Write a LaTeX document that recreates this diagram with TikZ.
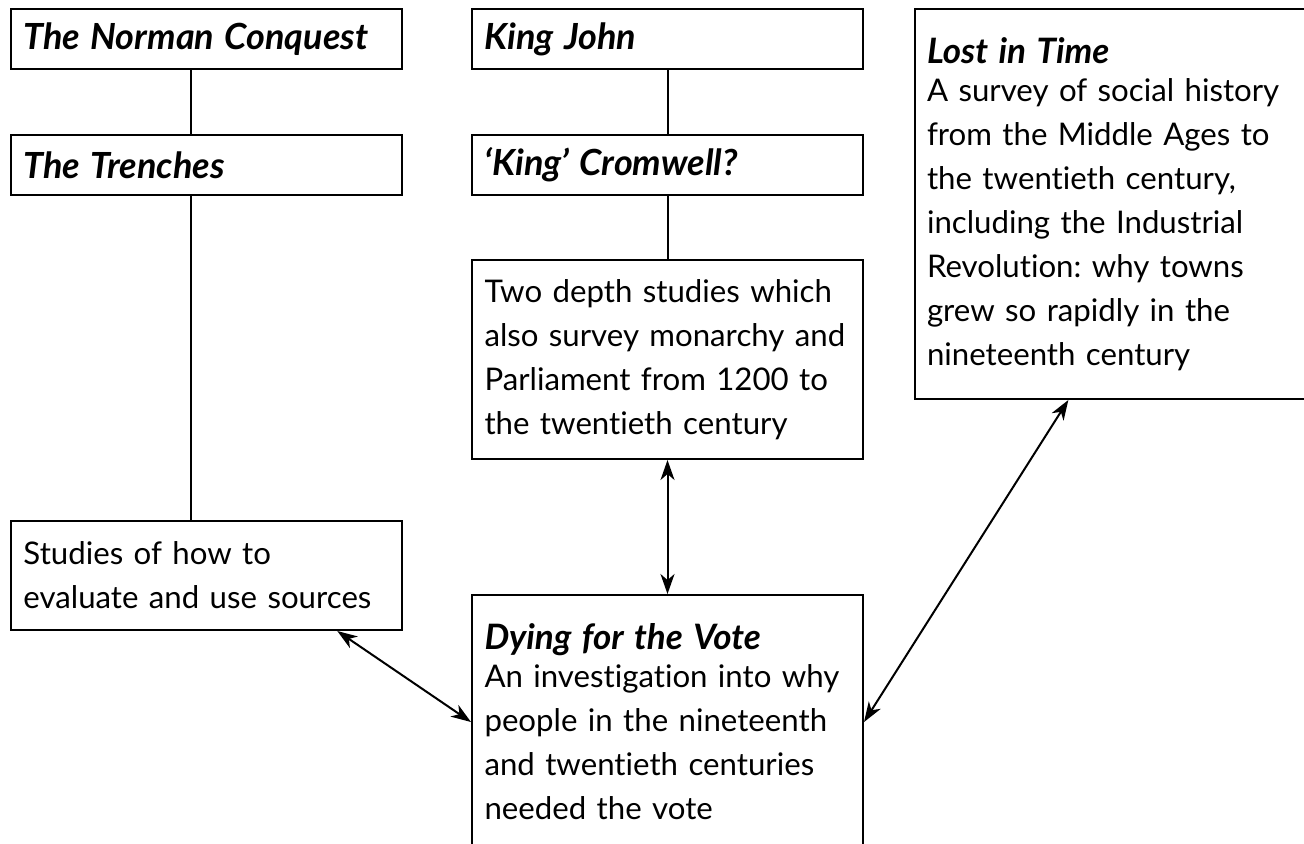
\documentclass[tikz,border=0pt]{standalone}
\usepackage{fontspec}
\setmainfont{Lato}[Ligatures=NoCommon]
\usetikzlibrary{arrows.meta}

\newcommand{\bigtitle}{\fontsize{18}{20}\selectfont\bfseries\itshape}
\newcommand{\smalltitle}{\fontsize{17.5}{18}\selectfont\bfseries\itshape}

\tikzset{
  topic/.style={draw, line width=1pt, rectangle, anchor=north west, align=left,
    inner xsep=6pt, text width=#1, font=\fontsize{15.6}{22}\selectfont\frenchspacing},
  topic/.default=183pt,
  link/.style={line width=1pt},
  both/.style={line width=1pt, {Stealth[length=10pt,width=7pt,inset=3pt]}-{Stealth[length=10pt,width=7pt,inset=3pt]}}
}

\begin{document}
\begin{tikzpicture}[x=0.5pt, y=-0.5pt]
  \clip (0,0) rectangle (1304,843);

  % Left column
  \node[topic, minimum width=195.5pt, minimum height=30pt] (norman) at (10,8) {\bigtitle The Norman Conquest};
  \node[topic, minimum width=195.5pt, minimum height=30pt] (trenches) at (10,134) {\bigtitle The Trenches};
  \node[topic, minimum width=195.5pt, minimum height=54.5pt] (studies) at (10,520)
    {Studies of how to\\evaluate and use sources};

  % Middle column
  \node[topic, minimum width=195.5pt, minimum height=30pt] (john) at (471,8) {\bigtitle King John};
  \node[topic, minimum width=195.5pt, minimum height=30pt] (cromwell) at (471,134) {\bigtitle `King' Cromwell?};
  \node[topic, minimum width=195.5pt, minimum height=99.5pt] (depth) at (471,259)
    {Two depth studies which\\also survey monarchy and\\Parliament from 1200 to\\the twentieth century};
  \node[topic, minimum width=195.5pt, minimum height=127pt] (vote) at (471,594)
    {{\smalltitle Dying for the Vote}\\[-3pt]An investigation into why\\people in the nineteenth\\and twentieth centuries\\needed the vote};

  % Right column
  \node[topic, minimum width=195pt, minimum height=195pt] (lost) at (914,8)
    {{\smalltitle Lost in Time}\\[-3pt]A survey of social history\\from the Middle Ages to\\the twentieth century,\\including the Industrial\\Revolution: why towns\\grew so rapidly in the\\nineteenth century};

  % Plain links
  \draw[link] (norman.243) -- (norman.243 |- trenches.north);
  \draw[link] (trenches.243) -- (trenches.243 |- studies.north);
  \draw[link] (john) -- (cromwell);
  \draw[link] (cromwell) -- (depth);

  % Two-way arrows
  \draw[both] (depth) -- (vote);
  \draw[both] (studies.-23.5) -- (vote.west);
  \draw[both] (lost.258) -- (vote.east);
\end{tikzpicture}
\end{document}
